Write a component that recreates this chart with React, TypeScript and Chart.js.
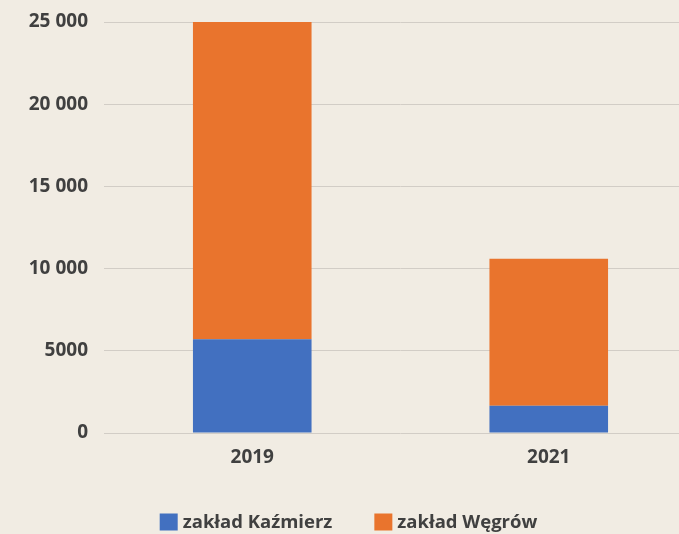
import React, { useEffect, useRef } from "react";
import { Chart, registerables } from "chart.js";

Chart.register(...registerables);

const categories = ["2019", "2021"];
const kazmierz = [5700, 1650];
const wegrow = [19300, 8950];
const seriesNames = ["zakład Kaźmierz", "zakład Węgrów"];
const colors = ["#4270C0", "#E9742D"];

const fmt = (v: number) => {
  if (v < 10000) return String(v);
  return String(v).replace(/\B(?=(\d{3})+(?!\d))/g, " ");
};

const FAMILY = "'Open Sans', 'DejaVu Sans', sans-serif";
const TEXT = "#404040";

const bottomLegend = {
  id: "bottomLegend",
  afterDraw(chart: any) {
    const ctx = chart.ctx as CanvasRenderingContext2D;
    ctx.save();
    ctx.font = `bold 18.5px ${FAMILY}`;
    ctx.textBaseline = "middle";
    const box = 18;
    const gap = 5;
    const itemGap = 42;
    const items = chart.data.datasets.map((d: any) => ({
      label: d.label,
      color: d.backgroundColor,
      w: ctx.measureText(d.label).width,
    }));
    const total = items.reduce((s: number, it: any) => s + box + gap + it.w, 0) + itemGap * (items.length - 1);
    let x = chart.width / 2 - total / 2;
    const cy = 522;
    for (const it of items) {
      ctx.fillStyle = it.color;
      ctx.fillRect(x, cy - 8.5, box, 17);
      ctx.fillStyle = TEXT;
      ctx.fillText(it.label, x + box + gap, cy + 1);
      x += box + gap + it.w + itemGap;
    }
    ctx.restore();
  },
};

export default function App() {
  const ref = useRef<HTMLCanvasElement | null>(null);
  useEffect(() => {
    if (!ref.current) return;
    const font = { family: FAMILY, weight: "bold" as const, size: 19 };
    const chart = new Chart(ref.current, {
      type: "bar",
      data: {
        labels: categories,
        datasets: [
          { label: seriesNames[0], data: kazmierz, backgroundColor: colors[0], barPercentage: 0.4, categoryPercentage: 1 },
          { label: seriesNames[1], data: wegrow, backgroundColor: colors[1], barPercentage: 0.4, categoryPercentage: 1 },
        ],
      },
      options: {
        animation: false,
        responsive: false,
        layout: { padding: { top: 22, left: 0, right: 0, bottom: 55 } },
        plugins: {
          tooltip: { enabled: false },
          legend: { display: false },
        },
        scales: {
          x: {
            stacked: true,
            grid: { display: false, drawTicks: false },
            border: { display: false },
            ticks: { color: TEXT, font, padding: 13 },
            afterFit: (s: any) => { s.height = 46; s.paddingLeft = 0; s.paddingRight = 0; },
          },
          y: {
            stacked: true,
            min: 0,
            max: 25000,
            grid: { color: "#d2cdc6", drawTicks: false, lineWidth: 1 },
            border: { display: false },
            ticks: { stepSize: 5000, color: TEXT, font, padding: 16, callback: (v: any) => fmt(Number(v)) },
            afterFit: (s: any) => { s.width = 104; s.paddingTop = 0; s.paddingBottom = 0; },
          },
        },
      },
      plugins: [bottomLegend],
    });
    return () => chart.destroy();
  }, []);
  return (
    <div style={{ position: "fixed", left: 0, top: 0, width: 679, height: 534, overflow: "hidden", background: "#F1ECE3" }}>
      <canvas ref={ref} width={697} height={534} style={{ display: "block" }} />
    </div>
  );
}
